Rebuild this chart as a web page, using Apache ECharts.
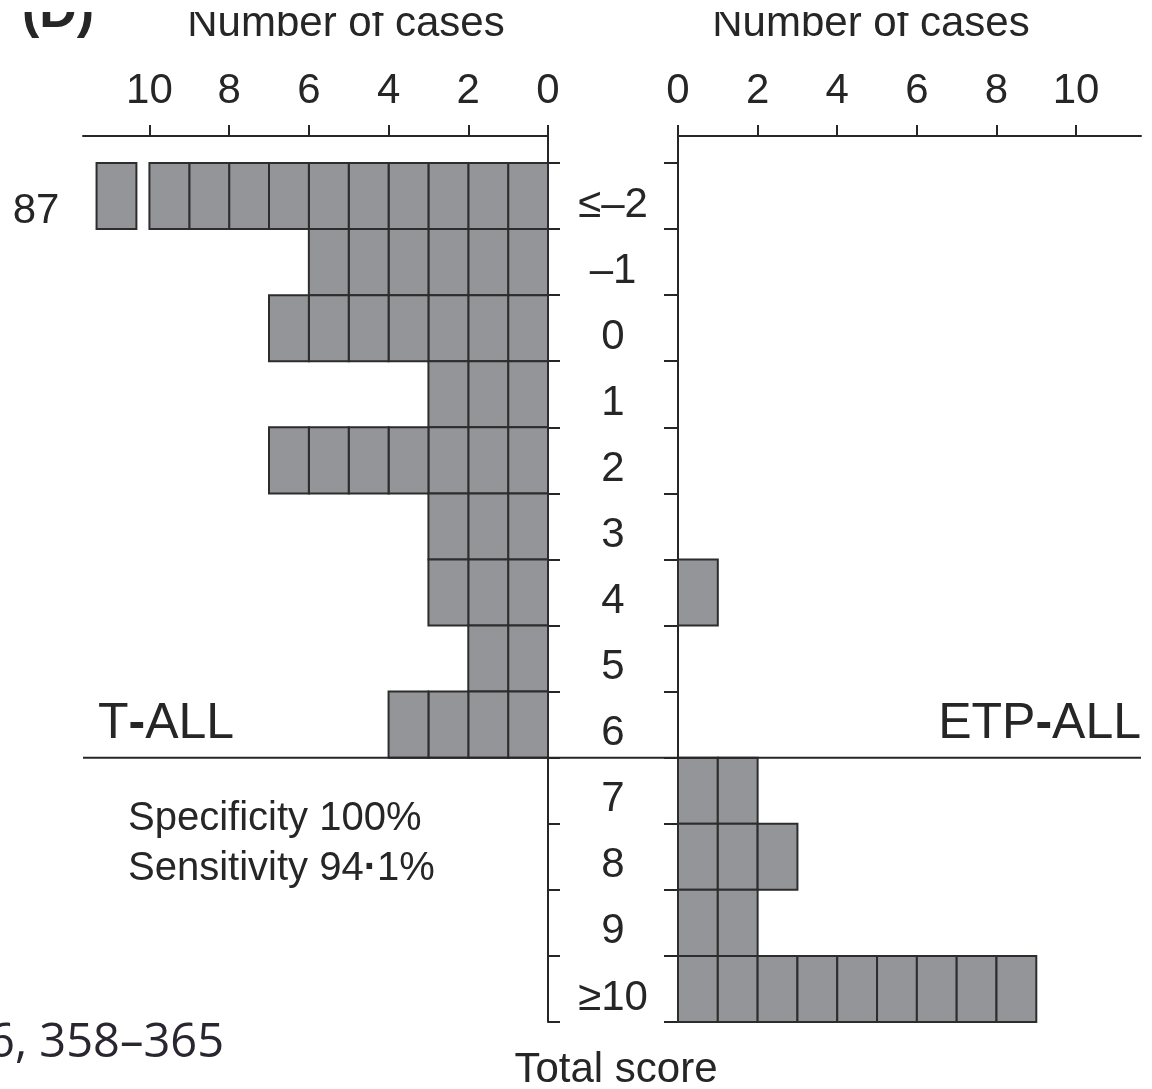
<!DOCTYPE html>
<html>
<head>
<meta charset="utf-8">
<script src="https://cdn.jsdelivr.net/npm/echarts@6/dist/echarts.min.js"></script>
<style>
  html, body { margin: 0; padding: 0; background: #fff; }
  #chart { width: 1152px; height: 1089px; }
</style>
</head>
<body>
<div id="chart"></div>
<script>
// Total score categories, top to bottom
const scoreCategories = ['≤–2', '–1', '0', '1', '2', '3', '4', '5', '6', '7', '8', '9', '≥10'];
// Number of T-ALL cases per score (the ≤–2 bar runs through an axis break)
const tallCases = [87, 6, 7, 3, 7, 3, 3, 2, 4, 0, 0, 0, 0];
// Number of ETP-ALL cases per score
const etpCases = [0, 0, 0, 0, 0, 0, 1, 0, 0, 2, 3, 2, 9];
// Tick values on both "Number of cases" axes
const caseTicks = [0, 2, 4, 6, 8, 10];

const INK = '#262626';
const FILL = '#949599';
const EDGE = '#2d2d2d';
const FONT = '"Liberation Sans", Arial, sans-serif';

const GRID_TOP = 163;
const GRID_H = 859;
const AXIS_OFFSET = 27;
const LEFT_X = 83, LEFT_W = 465;
const RIGHT_X = 678, RIGHT_W = 463;

// One box per case, drawn along the value axis
function unitBoxes(params, api) {
  const n = api.value(0);
  const cat = api.value(1);
  const band = api.size([0, 1])[1];
  const cy = api.coord([0, cat])[1];
  const children = [];
  for (let k = 0; k < n; k++) {
    const a = api.coord([k, cat])[0];
    const b = api.coord([k + 1, cat])[0];
    const w = Math.abs(b - a);
    if (w < 2) continue; // cases folded into the axis break
    children.push({
      type: 'rect',
      shape: { x: Math.min(a, b), y: cy - band / 2, width: w, height: band },
      style: { fill: FILL, stroke: EDGE, lineWidth: 2 }
    });
  }
  return { type: 'group', children };
}

function caseAxis(gridIndex, extra) {
  return Object.assign({
    gridIndex,
    type: 'value',
    position: 'top',
    offset: AXIS_OFFSET,
    min: 0,
    axisLine: { show: true, onZero: false, lineStyle: { color: INK, width: 2 } },
    axisTick: { show: true, length: 11, customValues: caseTicks, lineStyle: { color: INK, width: 2 } },
    axisLabel: { customValues: caseTicks, fontSize: 42, margin: 24, color: INK, fontFamily: FONT },
    splitLine: { show: false }
  }, extra);
}

function scoreAxis(gridIndex, extra) {
  return Object.assign({
    gridIndex,
    type: 'category',
    data: scoreCategories,
    inverse: true,
    axisLine: { show: true, lineStyle: { color: INK, width: 2 } },
    axisTick: { show: true, length: 12, lineStyle: { color: INK, width: 2 } },
    splitLine: { show: false }
  }, extra);
}

const chart = echarts.init(document.getElementById('chart'), null, { renderer: 'canvas' });

chart.setOption({
  animation: false,
  backgroundColor: '#fff',
  grid: [
    { left: LEFT_X, top: GRID_TOP, width: LEFT_W, height: GRID_H },
    { left: RIGHT_X, top: GRID_TOP, width: RIGHT_W, height: GRID_H }
  ],
  xAxis: [
    caseAxis(0, {
      inverse: true,
      max: 87.34,
      breaks: [{ start: 10, end: 86, gap: '2.8%' }],
      breakArea: { show: false }
    }),
    caseAxis(1, { max: 11.63 })
  ],
  yAxis: [
    scoreAxis(0, {
      position: 'right',
      axisLabel: {
        show: true, fontSize: 42, color: INK, fontFamily: FONT,
        align: 'center', margin: 65, verticalAlign: 'top', lineHeight: 18
      }
    }),
    scoreAxis(1, {
      position: 'left',
      axisTick: { show: true, length: 14, lineStyle: { color: INK, width: 2 } },
      axisLabel: { show: false }
    })
  ],
  series: [
    {
      name: 'T-ALL',
      type: 'custom',
      xAxisIndex: 0,
      yAxisIndex: 0,
      renderItem: unitBoxes,
      encode: { x: 0, y: 1 },
      data: tallCases.map((v, i) => [v, i])
    },
    {
      name: 'ETP-ALL',
      type: 'custom',
      xAxisIndex: 1,
      yAxisIndex: 1,
      renderItem: unitBoxes,
      encode: { x: 0, y: 1 },
      data: etpCases.map((v, i) => [v, i])
    }
  ]
});

// Connectors and the cutoff divider, placed from the axes' own scales
const leftZeroX = chart.convertToPixel({ xAxisIndex: 0 }, 0);
const rightZeroX = chart.convertToPixel({ xAxisIndex: 1 }, 0);
const yLastTall = chart.convertToPixel({ yAxisIndex: 0 }, 8);
const yFirstEtp = chart.convertToPixel({ yAxisIndex: 0 }, 9);
const cutoffY = (yLastTall + yFirstEtp) / 2;
const axisY = GRID_TOP - AXIS_OFFSET;

function line(x1, y1, x2, y2) {
  return {
    type: 'line', silent: true, z: 50,
    shape: { x1, y1, x2, y2 },
    style: { stroke: INK, lineWidth: 2 }
  };
}

function label(text, x, y, size, align, extra) {
  return {
    type: 'text', silent: true, z: 60,
    x, y,
    style: Object.assign({
      text, fill: INK, fontSize: size, fontFamily: FONT,
      align, verticalAlign: 'middle'
    }, extra || {})
  };
}

const boldDash = {
  n: { fontSize: 50, fontFamily: FONT, fill: INK },
  b: { fontSize: 50, fontFamily: FONT, fill: INK, fontWeight: 'bold' }
};
const boldDot = {
  n: { fontSize: 40, fontFamily: FONT, fill: INK },
  b: { fontSize: 40, fontFamily: FONT, fill: INK, fontWeight: 'bold' }
};

chart.setOption({
  graphic: [
    // the top axis line stays continuous across the break
    line(LEFT_X, axisY, leftZeroX, axisY),
    line(leftZeroX, axisY, leftZeroX, GRID_TOP),
    line(rightZeroX, axisY, rightZeroX, GRID_TOP),
    line(LEFT_X, cutoffY, RIGHT_X + RIGHT_W, cutoffY),

    label('(D)', 22, 13, 52, 'left', { fontWeight: 'bold' }),
    label('Number of cases', 346, 24, 42, 'center'),
    label('Number of cases', 871, 24, 42, 'center'),
    // top edge of the panel is trimmed
    { type: 'rect', silent: true, z: 70, shape: { x: 0, y: 0, width: 1152, height: 12 }, style: { fill: '#fff' } },

    label('87', 36, 211, 42, 'center'),
    label('{n|T}{b|-}{n|ALL}', 98, 724, 50, 'left', { rich: boldDash }),
    label('{n|ETP}{b|-}{n|ALL}', 1141, 724, 50, 'right', { rich: boldDash }),
    label('Specificity 100%', 128, 819, 40, 'left'),
    label('{n|Sensitivity 94}{b|·}{n|1%}', 128, 869, 40, 'left', { rich: boldDot }),
    label('Total score', 616, 1070, 42, 'center'),
    label('6, 358–365', 224, 1044, 47, 'right', { fontFamily: '"Open Sans", sans-serif', fill: '#2a2630' })
  ]
});
</script>
</body>
</html>
